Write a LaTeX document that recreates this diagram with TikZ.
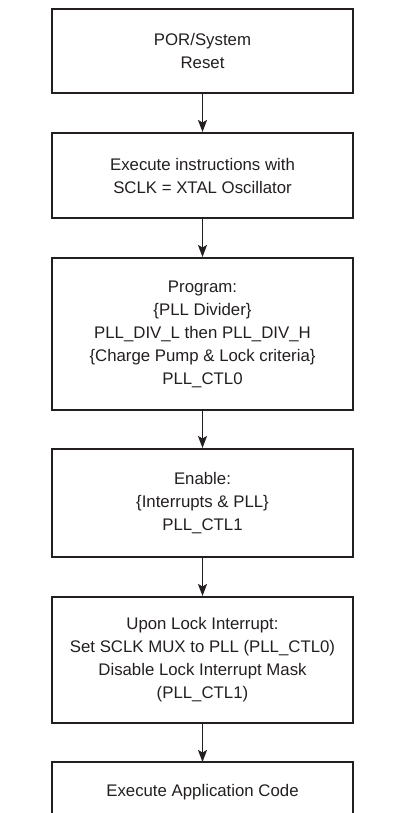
\documentclass[tikz,border=0pt]{standalone}
\usepackage{fontspec}
\setmainfont{Liberation Sans}
\usetikzlibrary{arrows.meta}
\definecolor{ink}{HTML}{231F20}
\begin{document}
\begin{tikzpicture}[x=1pt,y=-1pt,
  box/.style={draw=ink, line width=2.2pt, minimum width=301pt, align=center,
    font=\fontsize{16.8}{23}\selectfont, text=ink, inner sep=0pt, anchor=north},
  arr/.style={draw=ink, line width=1.6pt, -{Stealth[length=12pt,width=9pt,inset=2.5pt]}},
  side/.style={draw=ink, line width=2.2pt}]
\useasboundingbox (0,0) rectangle (393,813);
\node[box, minimum height=84pt]  (b1) at (202.5,8)   {POR/System\\Reset};
\node[box, minimum height=85pt]  (b2) at (202.5,132) {Execute instructions with\\SCLK = XTAL Oscillator};
\node[box, minimum height=152pt] (b3) at (202.5,257) {Program:\\\{PLL Divider\}\\PLL\_DIV\_L then PLL\_DIV\_H\\\{Charge Pump \& Lock criteria\}\\PLL\_CTL0};
\node[box, minimum height=108pt] (b4) at (202.5,448) {Enable:\\\{Interrupts \& PLL\}\\PLL\_CTL1};
\node[box, minimum height=126pt] (b5) at (202.5,596) {Upon Lock Interrupt:\\Set SCLK MUX to PLL (PLL\_CTL0)\\Disable Lock Interrupt Mask\\(PLL\_CTL1)};
\coordinate (b6t) at (202.5,762);
\coordinate (b6l) at (52,762);
\coordinate (b6r) at (353,762);
\node[font=\fontsize{16.8}{23}\selectfont, text=ink] (b6) at (202.5,792) {Execute Application Code};
\draw[side] (52,815) -- (b6l) -- (b6r) -- (353,815);
\draw[arr] (b1.south) -- (b2.north);
\draw[arr] (b2.south) -- (b3.north);
\draw[arr] (b3.south) -- (b4.north);
\draw[arr] (b4.south) -- (b5.north);
\draw[arr] (b5.south) -- (b6t);
\end{tikzpicture}
\end{document}
